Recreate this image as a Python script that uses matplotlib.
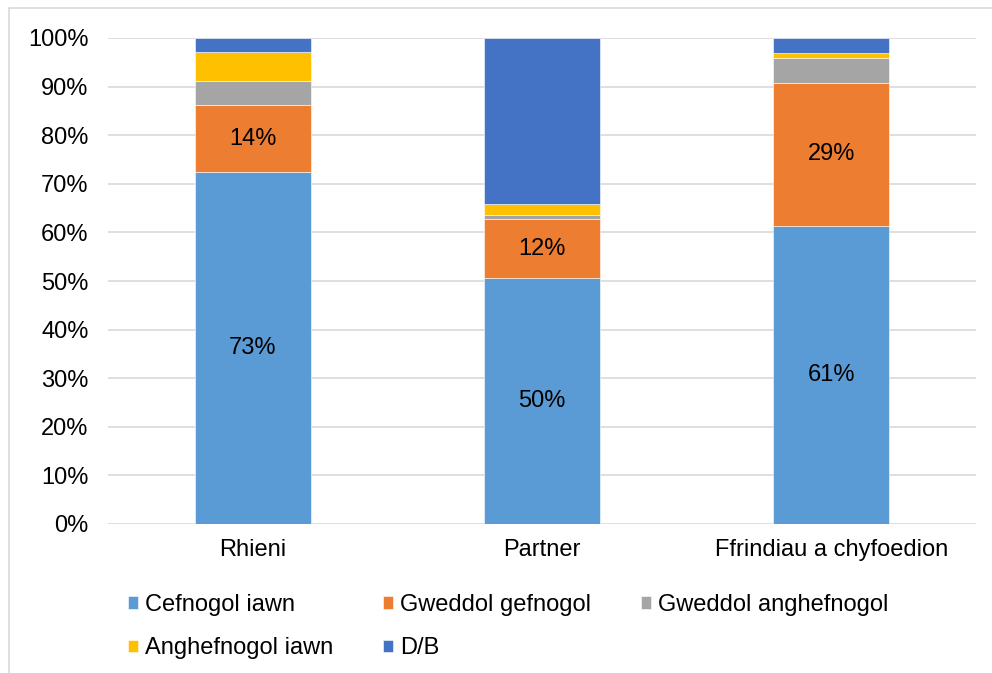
import numpy as np
import matplotlib.pyplot as plt
from matplotlib.patches import Rectangle

plt.rcParams['font.family'] = ['Liberation Sans', 'DejaVu Sans']

categories = ['Rhieni', 'Partner', 'Ffrindiau a chyfoedion']
series_names = ['Cefnogol iawn', 'Gweddol gefnogol', 'Gweddol anghefnogol',
                'Anghefnogol iawn', 'D/B']
cefnogol_iawn = [72.4, 50.6, 61.4]
gweddol_gefnogol = [13.8, 12.1, 29.4]
gweddol_anghefnogol = [5.0, 0.9, 5.1]
anghefnogol_iawn = [5.9, 2.2, 1.0]
db = [2.9, 34.2, 3.1]
labels_cefnogol = ['73%', '50%', '61%']
labels_gweddol = ['14%', '12%', '29%']
colors = ['#5B9BD5', '#ED7D31', '#A5A5A5', '#FFC000', '#4472C4']

series = [cefnogol_iawn, gweddol_gefnogol, gweddol_anghefnogol, anghefnogol_iawn, db]
fs = 17

fig = plt.figure(figsize=(9.92, 6.73), dpi=100)
ax = fig.add_axes([108/992, 1-524/673, 868/992, 486/673])

# stacked bars
x = np.arange(len(categories))
bottom = np.zeros(len(categories))
bars = []
for vals, name, col in zip(series, series_names, colors):
    b = ax.bar(x, vals, 0.4, bottom=bottom, color=col, label=name,
               edgecolor='white', linewidth=0.4, zorder=3)
    bars.append(b)
    bottom += np.array(vals)

ax.bar_label(bars[0], labels=labels_cefnogol, label_type='center', fontsize=fs)
ax.bar_label(bars[1], labels=labels_gweddol, label_type='center', fontsize=fs)

ax.set_xlim(-0.5, 2.5)
ax.set_ylim(0, 100)
ax.set_yticks(np.arange(0, 101, 10))
ax.set_yticklabels([f'{v}%' for v in range(0, 101, 10)])
ax.set_xticks(x)
ax.set_xticklabels(categories)
ax.tick_params(length=0, labelsize=fs, colors='black')
ax.tick_params(axis='y', pad=14)
ax.tick_params(axis='x', pad=11)
ax.grid(axis='y', color='#d9d9d9', linewidth=1.2, zorder=0)
for s in ax.spines.values():
    s.set_visible(False)

# legend filled column-wise, so reorder to read row-wise
order = [0, 3, 1, 4, 2]
h = [bars[i] for i in order]
l = [series_names[i] for i in order]
fig.legend(h, l, ncol=3, loc='upper left', bbox_to_anchor=(128/992, 1-594/673),
           frameon=False, fontsize=fs, handlelength=0.43, handleheight=0.43,
           handletextpad=0.3, columnspacing=2.1, labelspacing=0.9, borderpad=0,
           borderaxespad=0)

fig.patches.append(Rectangle((9/992, -0.1), 1.2, 1-8/673+0.1, transform=fig.transFigure,
                             fill=False, edgecolor='#d9d9d9', linewidth=1.2))

fig.savefig('out.png', dpi=100)
